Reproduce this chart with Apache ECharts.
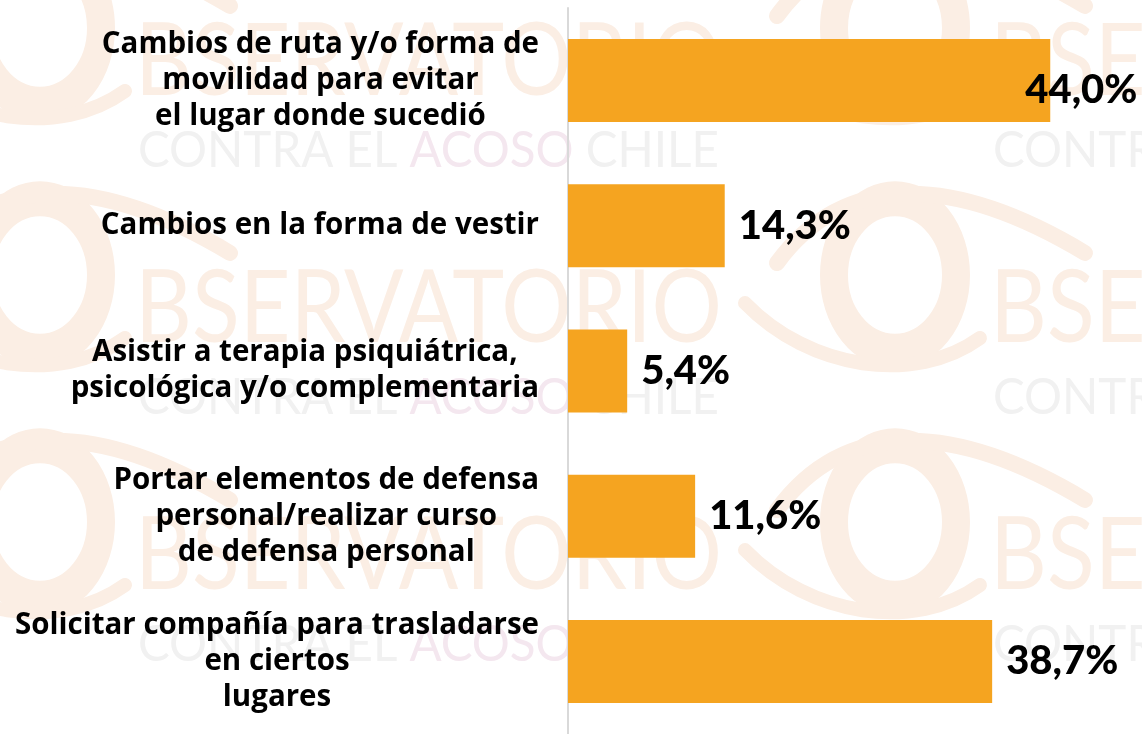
<!DOCTYPE html>
<html>
<head>
<meta charset="utf-8">
<script src="https://cdn.jsdelivr.net/npm/echarts@6/dist/echarts.min.js"></script>
<style>
  html, body { margin: 0; padding: 0; background: #fff; }
  #chart { width: 1142px; height: 734px; }
</style>
</head>
<body>
<div id="chart"></div>
<script>
// datos
const categories = [
  'Cambios de ruta y/o forma de\nmovilidad para evitar\nel lugar donde sucedió',
  'Cambios en la forma de vestir',
  'Asistir a terapia psiquiátrica,\npsicológica y/o complementaria',
  'Portar elementos de defensa\npersonal/realizar curso\nde defensa personal',
  'Solicitar compañía para trasladarse\nen ciertos\nlugares'
];
const values = [44.0, 14.3, 5.4, 11.6, 38.7];

// marca de agua de fondo (logo del observatorio)
const wmRows = [28, 275, 522];
const wmCols = [40, 895];
const wmColor = '#FBEEE4';
const wm = [];
wmRows.forEach(function (cy) {
  wmCols.forEach(function (cx) {
    wm.push({
      type: 'circle', x: cx, y: cy, scaleY: 1.25, z: -10, silent: true,
      shape: { cx: 0, cy: 0, r: 61 },
      style: { fill: 'none', stroke: wmColor, lineWidth: 28 }
    });
    // parpado superior
    wm.push({
      type: 'bezierCurve', z: -10, silent: true,
      shape: { x1: cx - 118, y1: cy - 12, cpx1: cx - 50, cpy1: cy - 105, cpx2: cx + 60, cpy2: cy - 100, x2: cx + 190, y2: cy - 22 },
      style: { fill: 'none', stroke: wmColor, lineWidth: 16, lineCap: 'round' }
    });
    // parpado inferior
    wm.push({
      type: 'bezierCurve', z: -10, silent: true,
      shape: { x1: cx - 150, y1: cy + 28, cpx1: cx - 85, cpy1: cy + 95, cpx2: cx + 20, cpy2: cy + 110, x2: cx + 85, y2: cy + 63 },
      style: { fill: 'none', stroke: wmColor, lineWidth: 14, lineCap: 'round' }
    });
    wm.push({
      type: 'text', x: cx + 95, y: cy + 35, z: -10, silent: true, scaleX: 0.88,
      style: { text: 'BSERVATORIO', font: '400 100px Lato', fill: wmColor, textVerticalAlign: 'middle' }
    });
    wm.push({
      type: 'text', x: cx + 98, y: cy + 123, z: -10, silent: true, scaleX: 0.95,
      style: {
        text: '{g|CONTRA EL }{p|ACOSO}{g| CHILE}',
        rich: {
          g: { font: '400 50px Lato', fill: '#F1F1F1' },
          p: { font: '400 50px Lato', fill: '#F4E7EF' }
        },
        textVerticalAlign: 'middle'
      }
    });
  });
});

const myChart = echarts.init(document.getElementById('chart'));
myChart.setOption({
  animation: false,
  graphic: wm,
  grid: { left: 568, right: 26, top: 8, bottom: 0, containLabel: false },
  xAxis: {
    type: 'value', min: 0, max: 50,
    show: false
  },
  yAxis: {
    type: 'category',
    inverse: true,
    data: categories,
    axisTick: { show: false },
    axisLine: { show: true, lineStyle: { color: '#D9D9D9', width: 2 } },
    axisLabel: {
      margin: 29,
      align: 'right',
      formatter: function (v) {
        return v.split('\n').map(function (s) { return '{a|' + s + '}'; }).join('\n');
      },
      rich: {
        a: { align: 'center', fontFamily: '"Open Sans"', fontWeight: 'bold', fontSize: 29.5, lineHeight: 36, color: '#000' }
      }
    }
  },
  series: [{
    type: 'bar',
    barWidth: 83,
    data: values.map(function (v, i) {
      const d = { value: v };
      if (i === 0) d.label = { offset: [-39, 9] };
      return d;
    }),
    itemStyle: { color: '#F5A420' },
    label: {
      show: true,
      position: 'right',
      distance: 14,
      color: '#000',
      fontFamily: 'Lato',
      fontWeight: 900,
      fontSize: 40,
      formatter: function (p) { return p.value.toFixed(1).replace('.', ',') + '%'; }
    }
  }]
});
</script>
</body>
</html>
